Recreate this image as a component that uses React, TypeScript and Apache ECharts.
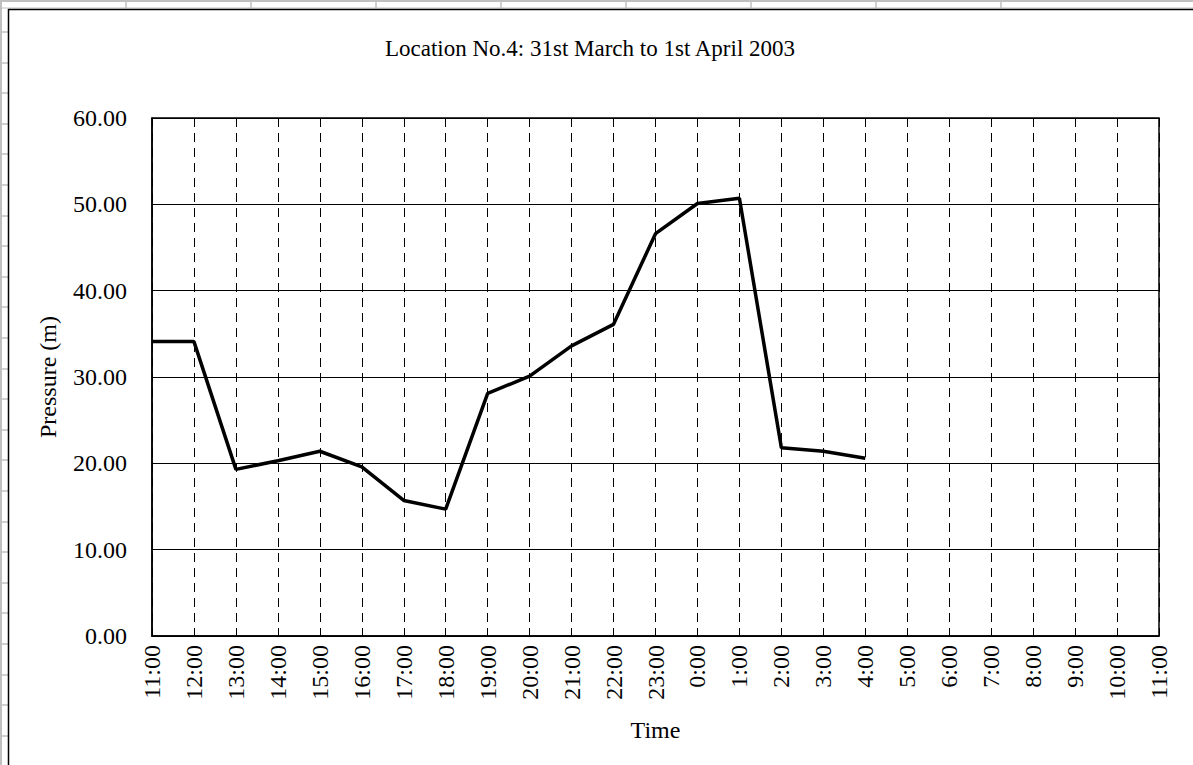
import React, { useEffect, useRef } from "react";
import * as echarts from "echarts";

const timeLabels = [
  "11:00", "12:00", "13:00", "14:00", "15:00", "16:00", "17:00", "18:00",
  "19:00", "20:00", "21:00", "22:00", "23:00", "0:00", "1:00", "2:00",
  "3:00", "4:00", "5:00", "6:00", "7:00", "8:00", "9:00", "10:00", "11:00",
];

const pressure: (number | null)[] = [
  34.1, 34.1, 19.3, 20.3, 21.4, 19.6, 15.7, 14.7, 28.1, 30.1, 33.6, 36.1,
  46.6, 50.1, 50.7, 21.8, 21.4, 20.6, null, null, null, null, null, null, null,
];

const titleText = "Location No.4: 31st March to 1st April 2003";
const yAxisName = "Pressure (m)";
const xAxisName = "Time";

const W = 1193;
const H = 765;

function sheetGraphics() {
  const els: any[] = [];
  const gray = "#c0c0c0";
  els.push({ type: "rect", shape: { x: 0, y: 0, width: W, height: 2 }, style: { fill: gray }, silent: true });
  els.push({ type: "rect", shape: { x: 0, y: 0, width: 2, height: H }, style: { fill: gray }, silent: true });
  const colX = [126, 251, 376, 501, 626, 751, 876, 1001];
  colX.forEach((x) =>
    els.push({ type: "line", shape: { x1: x, y1: 2, x2: x, y2: 8 }, style: { stroke: gray, lineWidth: 1.5 }, silent: true })
  );
  for (let y = 32; y < H; y += 30.6) {
    els.push({ type: "line", shape: { x1: 2, y1: Math.round(y), x2: 8, y2: Math.round(y) }, style: { stroke: gray, lineWidth: 1.5 }, silent: true });
  }
  els.push({ type: "line", shape: { x1: 2, y1: 8, x2: W, y2: 8 }, style: { stroke: gray, lineWidth: 1 }, silent: true });
  els.push({ type: "rect", shape: { x: 8.5, y: 9.5, width: W + 10, height: H + 10 }, style: { fill: "none", stroke: "#000", lineWidth: 1.5 }, silent: true });
  els.push({
    type: "text",
    x: 590,
    y: 48,
    style: { text: titleText, fontFamily: "Liberation Serif", fontSize: 23, fill: "#000", textAlign: "center", textVerticalAlign: "middle" },
    silent: true,
  });
  return els;
}

export default function App() {
  const ref = useRef<HTMLDivElement>(null);
  useEffect(() => {
    if (!ref.current) return;
    const chart = echarts.init(ref.current, undefined, { renderer: "svg" });
    const font = "Liberation Serif";
    chart.setOption({
      animation: false,
      backgroundColor: "#fff",
      textStyle: { fontFamily: font },
      graphic: sheetGraphics(),
      grid: {
        left: 152,
        right: W - 1159,
        top: 118,
        bottom: H - 636,
        show: true,
        borderColor: "#000",
        borderWidth: 1.5,
        backgroundColor: "transparent",
        containLabel: false,
      },
      xAxis: {
        type: "category",
        data: timeLabels,
        boundaryGap: false,
        axisLine: { show: true, lineStyle: { color: "#000", width: 1.5 } },
        axisTick: { show: false },
        axisLabel: { rotate: 90, fontSize: 24, color: "#000", fontFamily: font, margin: 9, interval: 0 },
        splitLine: { show: true, lineStyle: { color: "#000", width: 1, type: [9, 6] } },
        name: xAxisName,
        nameLocation: "middle",
        nameGap: 82,
        nameTextStyle: { fontSize: 24, color: "#000", fontFamily: font },
      },
      yAxis: {
        type: "value",
        min: 0,
        max: 60,
        interval: 10,
        axisLine: { show: true, lineStyle: { color: "#000", width: 1.5 } },
        axisTick: { show: false },
        axisLabel: { fontSize: 24, color: "#000", fontFamily: font, margin: 25, formatter: (v: number) => v.toFixed(2) },
        splitLine: { show: true, lineStyle: { color: "#000", width: 1 } },
        name: yAxisName,
        nameLocation: "middle",
        nameGap: 92,
        nameRotate: 90,
        nameTextStyle: { fontSize: 24, color: "#000", fontFamily: font },
      },
      series: [
        {
          type: "line",
          data: pressure,
          showSymbol: false,
          symbol: "none",
          connectNulls: false,
          lineStyle: { color: "#000", width: 3.5 },
          z: 5,
        },
      ],
    });
    return () => chart.dispose();
  }, []);
  return (
    <div style={{ position: "fixed", left: 0, top: 0, width: W, height: H, background: "#fff" }}>
      <div ref={ref} style={{ width: W, height: H }} />
    </div>
  );
}
